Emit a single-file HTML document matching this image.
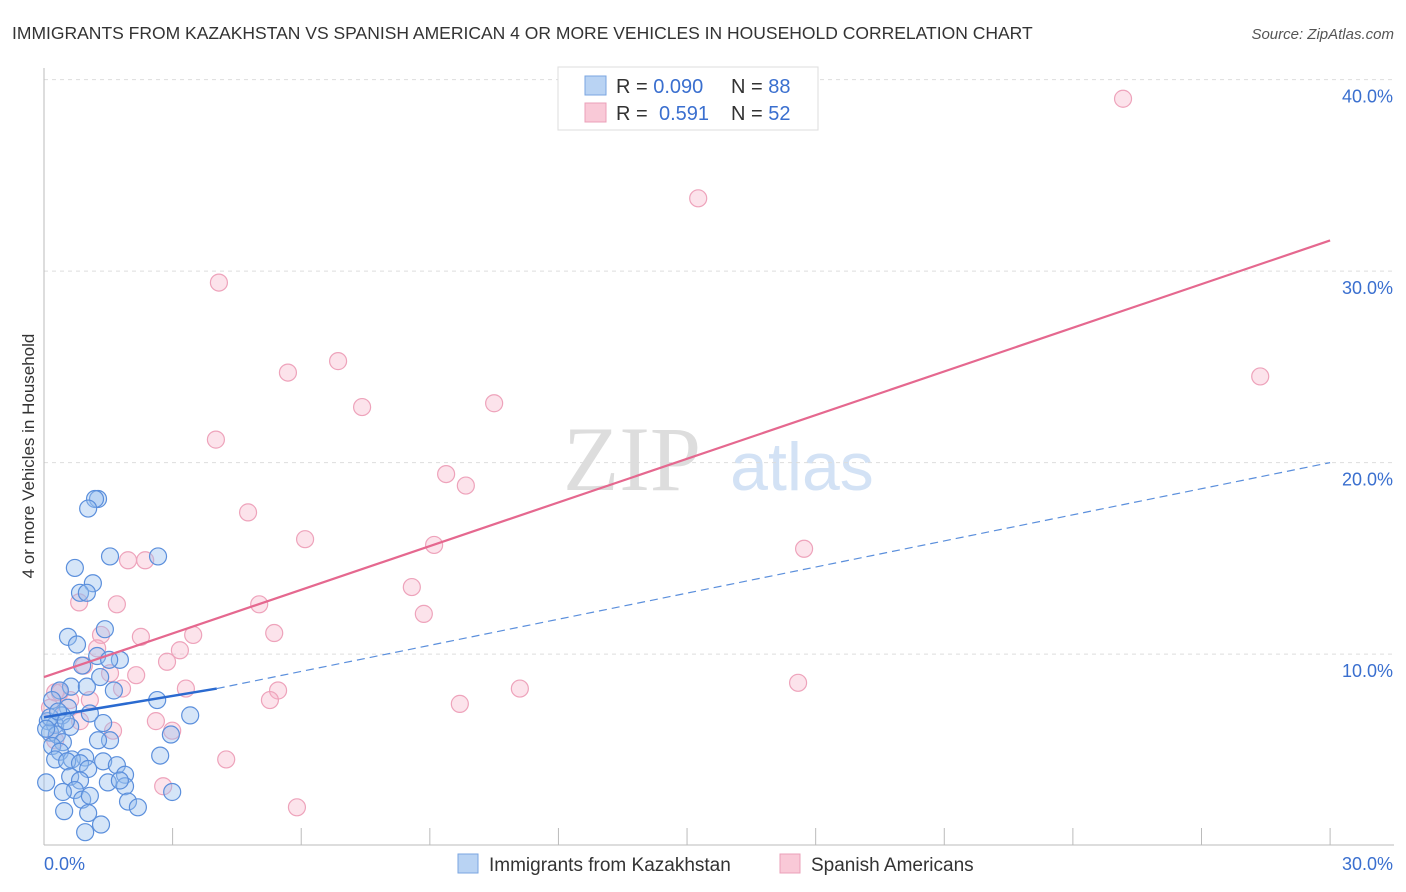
<!DOCTYPE html>
<html><head><meta charset="utf-8"><style>
body{margin:0;background:#fff;font-family:"Liberation Sans",sans-serif;}
svg{display:block}
</style></head><body>
<svg id="chart" width="1406" height="892" xmlns="http://www.w3.org/2000/svg">
<text x="12" y="39" font-size="17.5" fill="#333">IMMIGRANTS FROM KAZAKHSTAN VS SPANISH AMERICAN 4 OR MORE VEHICLES IN HOUSEHOLD CORRELATION CHART</text>
<text x="1394" y="39" font-size="15" fill="#555" font-style="italic" text-anchor="end">Source: ZipAtlas.com</text>
<text transform="translate(34,456) rotate(-90)" font-size="17" fill="#333" text-anchor="middle">4 or more Vehicles in Household</text>
<g><text x="632" y="490" font-size="92" fill="#ddd" font-family="Liberation Serif,serif" text-anchor="middle">ZIP</text><text x="802" y="490" font-size="68" fill="#d3e2f5" text-anchor="middle">atlas</text></g>
<g id="grid"></g><g id="axes"></g><g id="pts"></g><g id="trends"></g>
<g>
<rect x="558" y="67" width="260" height="63" fill="#fff" stroke="#ddd"/>
<rect x="585" y="76" width="21" height="19" fill="#b9d3f3" stroke="#7aa6e0"/>
<rect x="585" y="103" width="21" height="19" fill="#f9c9d7" stroke="#eba0b8"/>
<text x="616" y="93" font-size="20" fill="#333">R = <tspan fill="#3a6fcf">0.090</tspan><tspan x="731">N = </tspan><tspan fill="#3a6fcf">88</tspan></text>
<text x="616" y="120" font-size="20" fill="#333">R = <tspan x="659" fill="#3a6fcf">0.591</tspan><tspan x="731">N = </tspan><tspan fill="#3a6fcf">52</tspan></text>
</g>
<g>
<rect x="458" y="854" width="20" height="19" fill="#b9d3f3" stroke="#7aa6e0"/>
<text x="489" y="871" font-size="19" fill="#333">Immigrants from Kazakhstan</text>
<rect x="780" y="854" width="20" height="19" fill="#f9c9d7" stroke="#eba0b8"/>
<text x="811" y="871" font-size="19" fill="#333">Spanish Americans</text>
</g>
</svg>
<script>
const yTicks=[10,20,30,40];
const yTickLabels=["10.0%","20.0%","30.0%","40.0%"];
const xTickCount=10;
const blueX=[1.26,1.19,1.03,1.54,2.66,0.72,1.14,0.84,1.00,1.42,0.56,0.77,1.24,1.77,1.52,0.89,1.31,0.63,1.00,1.63,0.37,2.64,0.56,1.07,0.42,3.41,1.38,0.09,0.26,0.61,0.14,0.30,1.54,1.26,2.71,2.96,0.44,0.19,0.37,0.96,0.65,0.26,0.54,0.84,1.38,1.70,1.03,1.89,0.61,0.84,0.05,1.49,1.89,0.72,0.44,2.99,0.89,1.96,0.47,2.19,1.03,1.33,0.96,0.19,0.14,0.05,0.33,0.51,1.77,1.07];
const blueY=[18.1,18.1,17.6,15.1,15.1,14.5,13.7,13.2,13.2,11.3,10.9,10.5,9.9,9.7,9.7,9.4,8.8,8.3,8.3,8.1,8.1,7.6,7.2,6.9,6.8,6.8,6.4,6.5,6.3,6.2,5.9,5.8,5.5,5.5,4.7,5.8,5.4,5.2,4.9,4.6,4.5,4.5,4.4,4.3,4.4,4.2,4.0,3.7,3.6,3.4,3.3,3.3,3.1,2.9,2.8,2.8,2.4,2.3,1.8,2.0,1.7,1.1,0.7,7.6,6.7,6.1,7.0,6.5,3.4,2.6];
const pinkX=[25.17,15.26,4.08,5.69,6.86,7.42,10.50,4.01,9.38,9.84,4.76,6.09,9.10,17.73,1.96,2.36,8.58,1.70,0.82,5.02,8.86,2.26,3.48,5.37,1.33,1.24,3.17,0.93,2.87,1.54,2.15,28.37,1.82,3.31,5.46,11.10,17.59,0.26,5.27,9.70,1.07,2.61,2.99,1.61,4.25,2.78,5.90,0.26,0.37,0.84,0.14,0.61];
const pinkY=[39.0,33.8,29.4,24.7,25.3,22.9,23.1,21.2,19.4,18.8,17.4,16.0,15.7,15.5,14.9,14.9,13.5,12.6,12.7,12.6,12.1,10.9,11.0,11.1,11.0,10.3,10.2,9.4,9.6,9.0,8.9,24.5,8.2,8.2,8.1,8.2,8.5,8.0,7.6,7.4,7.6,6.5,6.0,6.0,4.5,3.1,2.0,5.5,8.0,6.5,7.2,7.6];
const blueTrend=[[0,6.7],[4.03,8.2],[30,20.0]];
const pinkTrend=[[0,8.8],[30,31.6]];
const NS="http://www.w3.org/2000/svg";
const X=v=>44+v*42.87, Y=v=>845.6-v*19.15;
function mk(p,t,a){const e=document.createElementNS(NS,t);for(const k in a)e.setAttribute(k,a[k]);p.appendChild(e);return e;}
const grid=document.getElementById('grid'),axes=document.getElementById('axes'),pts=document.getElementById('pts'),tr=document.getElementById('trends');
yTicks.forEach((v,i)=>{
 const l=mk(grid,'line',{x1:44,x2:1394,y1:Y(v),y2:Y(v),stroke:'#ddd','stroke-dasharray':'4,4'});
 
 
 const t=mk(axes,'text',{x:1393,y:Y(v)+23,'font-size':18,fill:'#3a6fcf','text-anchor':'end'});
 t.textContent=yTickLabels[i];
 
 
});
const ax=mk(axes,'line',{x1:44,x2:1394,y1:845,y2:845,stroke:'#bbb'});


const ay=mk(axes,'line',{x1:44,x2:44,y1:68,y2:845,stroke:'#bbb'});


for(let i=1;i<=xTickCount;i++){const xv=X(i*3);const tk=mk(axes,'line',{x1:xv,x2:xv,y1:828,y2:845,stroke:'#bbb'});
 
 }
[[0,"0.0%",'start',44],[30,"30.0%",'end',1393]].forEach(a=>{const t=mk(axes,'text',{x:a[3],y:870,'font-size':18,fill:'#3a6fcf','text-anchor':a[2]});t.textContent=a[1];
 
 });
pinkX.forEach((v,i)=>{const c=mk(pts,'circle',{cx:X(v),cy:Y(pinkY[i]),r:8.5,fill:'rgba(246,176,198,0.35)',stroke:'#eea3bb','stroke-width':1.2});
 
 });
blueX.forEach((v,i)=>{const c=mk(pts,'circle',{cx:X(v),cy:Y(blueY[i]),r:8.5,fill:'rgba(150,190,238,0.4)',stroke:'#5b8fdc','stroke-width':1.2});
 
 });
const pl=mk(tr,'line',{x1:X(pinkTrend[0][0]),y1:Y(pinkTrend[0][1]),x2:X(pinkTrend[1][0]),y2:Y(pinkTrend[1][1]),stroke:'#e5688f','stroke-width':2.2});


const bl=mk(tr,'line',{x1:X(blueTrend[0][0]),y1:Y(blueTrend[0][1]),x2:X(blueTrend[1][0]),y2:Y(blueTrend[1][1]),stroke:'#2a6ad0','stroke-width':2.5});


const bd=mk(tr,'line',{x1:X(blueTrend[1][0]),y1:Y(blueTrend[1][1]),x2:X(blueTrend[2][0]),y2:Y(blueTrend[2][1]),stroke:'#5b8fdc','stroke-width':1.2,'stroke-dasharray':'8,5'});


</script>
</body></html>
